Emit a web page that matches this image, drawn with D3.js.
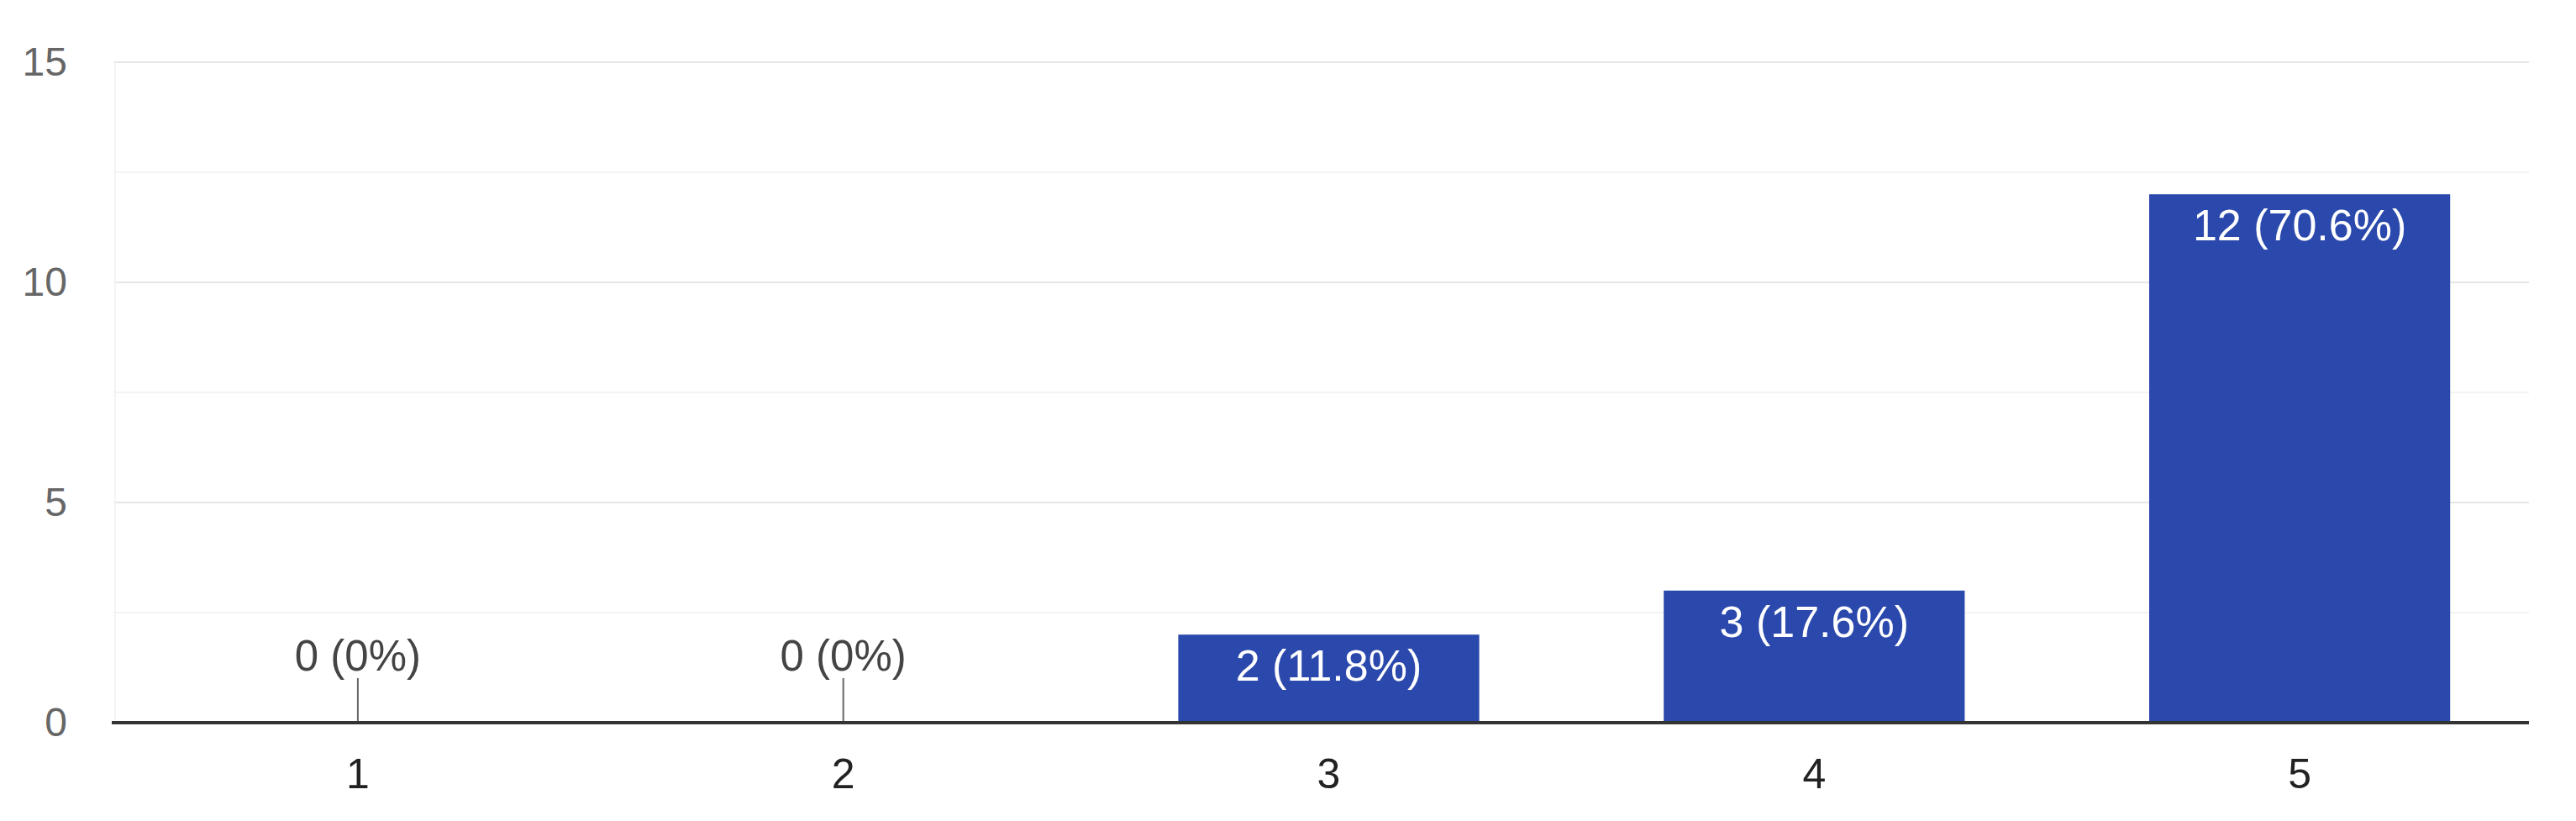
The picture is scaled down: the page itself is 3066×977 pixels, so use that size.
<!DOCTYPE html>
<html>
<head>
<meta charset="utf-8">
<script src="https://cdn.jsdelivr.net/npm/d3@7"></script>
<style>
  html, body { margin: 0; padding: 0; background: #ffffff; }
  svg { display: block; font-family: "Liberation Sans", Arial, sans-serif; }
</style>
</head>
<body>
<svg id="chart" width="3066" height="977"></svg>
<script>
const categories = ["1", "2", "3", "4", "5"];
const counts = [0, 0, 2, 3, 12];
const labels = ["0 (0%)", "0 (0%)", "2 (11.8%)", "3 (17.6%)", "12 (70.6%)"];
const yTicks = [0, 5, 10, 15];
const yMinorTicks = [2.5, 7.5, 12.5];

const svg = d3.select("#chart");
const plotLeft = 135, plotRight = 3010;

const x = d3.scaleBand()
  .domain(categories)
  .range([137, 3026])
  .paddingInner(0.38)
  .paddingOuter(0.19);

const y = d3.scaleLinear()
  .domain([0, 15])
  .range([860, 74]);

// minor gridlines
svg.append("g").selectAll("line").data(yMinorTicks).join("line")
  .attr("x1", plotLeft).attr("x2", plotRight)
  .attr("y1", d => y(d)).attr("y2", d => y(d))
  .attr("stroke", "#f3f3f3").attr("stroke-width", 2);

// major gridlines
svg.append("g").selectAll("line").data(yTicks.filter(d => d > 0)).join("line")
  .attr("x1", plotLeft).attr("x2", plotRight)
  .attr("y1", d => y(d)).attr("y2", d => y(d))
  .attr("stroke", "#e6e6e6").attr("stroke-width", 2);

// faint left edge
svg.append("line")
  .attr("x1", plotLeft + 2).attr("x2", plotLeft + 2)
  .attr("y1", y(15)).attr("y2", y(0))
  .attr("stroke", "#f4f4f4").attr("stroke-width", 2);

// y axis labels
const yAxis = d3.axisLeft(y).tickValues(yTicks).tickSize(0).tickPadding(0);
const gy = svg.append("g").attr("transform", "translate(80,0)").call(yAxis);
gy.select(".domain").remove();
gy.selectAll("text")
  .attr("font-size", 48)
  .attr("fill", "#666")
  .attr("font-family", "'Liberation Sans', Arial, sans-serif");

// bars
const data = categories.map((c, i) => ({ c, v: counts[i], label: labels[i] }));
svg.append("g").selectAll("rect").data(data.filter(d => d.v > 0)).join("rect")
  .attr("x", d => x(d.c))
  .attr("y", d => y(d.v))
  .attr("width", x.bandwidth())
  .attr("height", d => y(0) - y(d.v))
  .attr("fill", "#2b49ac");

// zero-value leader lines and labels
const zeros = data.filter(d => d.v === 0);
svg.append("g").selectAll("line").data(zeros).join("line")
  .attr("x1", d => x(d.c) + x.bandwidth() / 2)
  .attr("x2", d => x(d.c) + x.bandwidth() / 2)
  .attr("y1", 807).attr("y2", y(0))
  .attr("stroke", "#666").attr("stroke-width", 2);
svg.append("g").selectAll("text").data(zeros).join("text")
  .attr("x", d => x(d.c) + x.bandwidth() / 2)
  .attr("y", 798)
  .attr("text-anchor", "middle")
  .attr("font-size", 51)
  .attr("fill", "#444")
  .text(d => d.label);

// in-bar labels
svg.append("g").selectAll("text").data(data.filter(d => d.v > 0)).join("text")
  .attr("x", d => x(d.c) + x.bandwidth() / 2)
  .attr("y", d => y(d.v) + 55)
  .attr("text-anchor", "middle")
  .attr("font-size", 52)
  .attr("fill", "#ffffff")
  .text(d => d.label);

// baseline
svg.append("line")
  .attr("x1", plotLeft - 2).attr("x2", plotRight)
  .attr("y1", y(0)).attr("y2", y(0))
  .attr("stroke", "#333").attr("stroke-width", 4);

// x axis labels
const xAxis = d3.axisBottom(x).tickSize(0).tickPadding(0);
const gx = svg.append("g").attr("transform", "translate(0,938)").call(xAxis);
gx.select(".domain").remove();
gx.selectAll("text")
  .attr("dy", 0)
  .attr("font-size", 50)
  .attr("fill", "#222")
  .attr("font-family", "'Liberation Sans', Arial, sans-serif");
</script>
</body>
</html>
